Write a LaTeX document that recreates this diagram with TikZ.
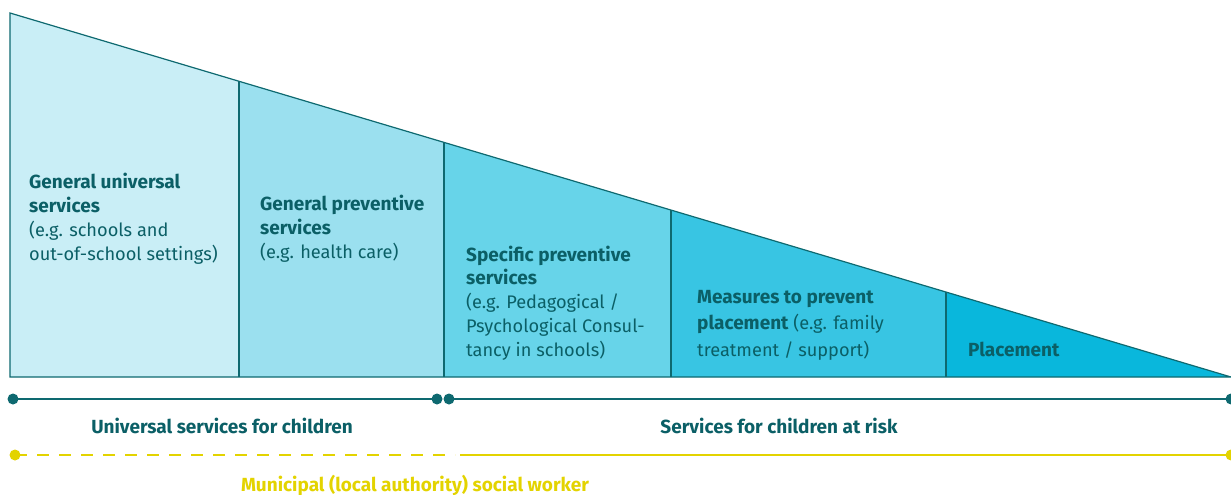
\documentclass[tikz,border=0pt]{standalone}
\usepackage{fontspec}
\setmainfont{Fira Sans}
\definecolor{edge}{HTML}{0E6970}
\definecolor{txt}{HTML}{0B5F66}
\definecolor{fa}{HTML}{C9EEF6}
\definecolor{fb}{HTML}{9BE0EF}
\definecolor{fc}{HTML}{67D4E9}
\definecolor{fd}{HTML}{38C5E3}
\definecolor{fe}{HTML}{09B7DC}
\definecolor{ylw}{HTML}{E3D300}
\newcommand{\hb}[1]{{\fontsize{19}{23.7}\selectfont\bfseries #1}}
\begin{document}
\begin{tikzpicture}[x=1pt,y=-1pt,
  seg/.style={draw=edge,line width=1.2pt,line join=miter},
  lbl/.style={anchor=base west,align=left,text=txt,font=\fontsize{18.2}{23.7}\selectfont,inner sep=0pt},
  axis/.style={draw=edge,line width=2pt},
  dot/.style={circle,fill=edge,inner sep=0pt,minimum size=11pt},
  ydot/.style={circle,fill=ylw,inner sep=0pt,minimum size=11pt},
  yline/.style={draw=ylw,line width=2.2pt},
  caption/.style={anchor=base,text=txt,font=\fontsize{19}{22}\selectfont\bfseries,inner sep=0pt}]
\useasboundingbox (0,0) rectangle (1231,495);
% triangle sections
\coordinate (t0) at (10,13);
\coordinate (t1) at (239,81.3);
\coordinate (t2) at (444,142.4);
\coordinate (t3) at (671,210.1);
\coordinate (t4) at (946,292.1);
\coordinate (t5) at (1231,377);
\coordinate (b0) at (10,377);
\coordinate (b1) at (239,377);
\coordinate (b2) at (444,377);
\coordinate (b3) at (671,377);
\coordinate (b4) at (946,377);
\fill[fa] (b0) -- (t0) -- (t1) -- (b1) -- cycle;
\fill[fb] (b1) -- (t1) -- (t2) -- (b2) -- cycle;
\fill[fc] (b2) -- (t2) -- (t3) -- (b3) -- cycle;
\fill[fd] (b3) -- (t3) -- (t4) -- (b4) -- cycle;
\fill[fe] (b4) -- (t4) -- (t5) -- cycle;
\draw[seg] (b0) -- (t0) -- (t5) -- cycle;
\draw[seg] (t1) -- (b1) (t2) -- (b2) (t3) -- (b3) (t4) -- (b4);
% labels (anchor = baseline of last line)
\node[lbl] (l1) at (29,260) {\hb{General universal}\\\hb{services}\\(e.g. schools and\\out-of-school settings)};
\node[lbl] (l2) at (260,258) {\hb{General preventive}\\\hb{services}\\(e.g. health care)};
\node[lbl] (l3) at (466,356) {\hb{Specific preventive}\\\hb{services}\\(e.g. Pedagogical /\\Psychological Consul-\\tancy in schools)};
\node[lbl,font=\fontsize{18.2}{26.3}\selectfont] (l4) at (697,356) {\hb{Measures to prevent}\\\hb{placement} (e.g. family\\treatment / support)};
\node[lbl] (l5) at (968,356) {\hb{Placement}};
% axis
\node[dot] (d1) at (13,399) {};
\node[dot] (d2) at (437,399) {};
\node[dot] (d3) at (449,399) {};
\node[dot] (d4) at (1231,399) {};
\draw[axis] (d1.center) -- (d2.center);
\draw[axis] (d3.center) -- (d4.center);
\node[caption] (c1) at (222,433) {Universal services for children};
\node[caption] (c2) at (779,433) {Services for children at risk};
% yellow
\node[ydot] (y1) at (15,455) {};
\coordinate (ym) at (455,455);
\node[ydot] (y2) at (1231,455) {};
\draw[yline,dash pattern=on 12pt off 10pt] (y1.center) -- (ym);
\draw[yline] (ym) ++(5,0) -- (y2.center);
\node[caption,text=ylw] (c3) at (415,491) {Municipal (local authority) social worker};
\end{tikzpicture}
\end{document}
